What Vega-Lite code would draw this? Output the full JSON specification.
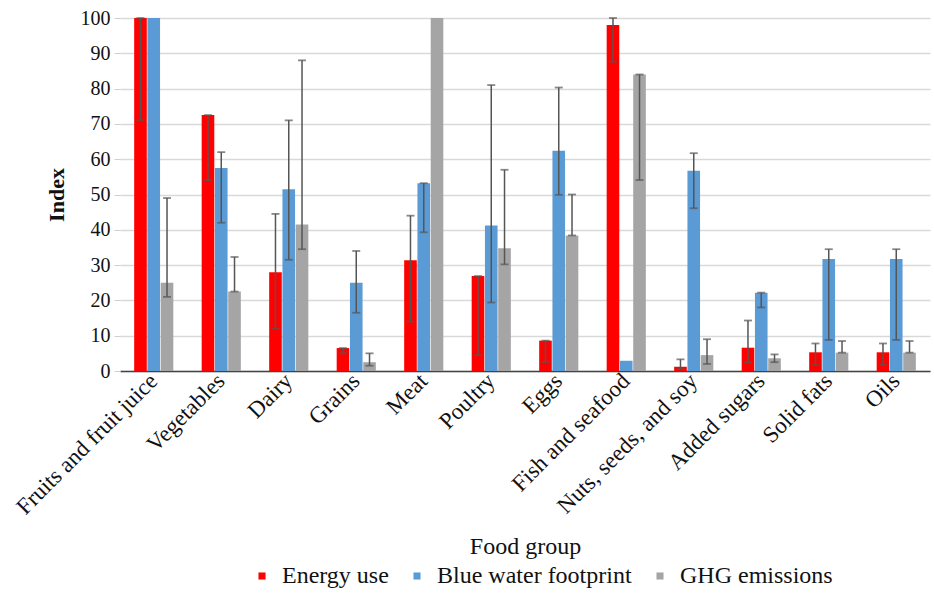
{
  "$schema": "https://vega.github.io/schema/vega-lite/v6.json",
  "autosize": {"type": "none"},
  "width": 810,
  "height": 353,
  "padding": {"left": 120, "top": 18, "right": 4, "bottom": 223},
  "background": "white",
  "config": {
    "font": "Times New Roman",
    "view": {"stroke": null},
    "axis": {"labelFont": "Times New Roman", "titleFont": "Times New Roman", "labelColor": "#111", "titleColor": "#111"},
    "legend": {"labelFont": "Times New Roman", "titleFont": "Times New Roman"}
  },
  "data": {
    "values": [
      {"group": "Fruits and fruit juice", "measure": "Energy use", "value": 100, "lo": 71, "hi": 100},
      {"group": "Fruits and fruit juice", "measure": "Blue water footprint", "value": 100, "lo": null, "hi": null},
      {"group": "Fruits and fruit juice", "measure": "GHG emissions", "value": 25, "lo": 21, "hi": 49},
      {"group": "Vegetables", "measure": "Energy use", "value": 72.5, "lo": 54, "hi": 72.5},
      {"group": "Vegetables", "measure": "Blue water footprint", "value": 57.5, "lo": 42, "hi": 62},
      {"group": "Vegetables", "measure": "GHG emissions", "value": 22.5, "lo": 22.5, "hi": 32.3},
      {"group": "Dairy", "measure": "Energy use", "value": 28, "lo": 12, "hi": 44.5},
      {"group": "Dairy", "measure": "Blue water footprint", "value": 51.5, "lo": 31.5, "hi": 71},
      {"group": "Dairy", "measure": "GHG emissions", "value": 41.5, "lo": 34.5, "hi": 88},
      {"group": "Grains", "measure": "Energy use", "value": 6.5, "lo": 5, "hi": 6.5},
      {"group": "Grains", "measure": "Blue water footprint", "value": 25, "lo": 16.5, "hi": 34},
      {"group": "Grains", "measure": "GHG emissions", "value": 2.5, "lo": 1.5, "hi": 5},
      {"group": "Meat", "measure": "Energy use", "value": 31.4, "lo": 14, "hi": 44},
      {"group": "Meat", "measure": "Blue water footprint", "value": 53.2, "lo": 39.3, "hi": 53.2},
      {"group": "Meat", "measure": "GHG emissions", "value": 100, "lo": null, "hi": null},
      {"group": "Poultry", "measure": "Energy use", "value": 26.9, "lo": 4.5, "hi": 26.9},
      {"group": "Poultry", "measure": "Blue water footprint", "value": 41.2, "lo": 19.4, "hi": 81},
      {"group": "Poultry", "measure": "GHG emissions", "value": 34.8, "lo": 30.2, "hi": 57},
      {"group": "Eggs", "measure": "Energy use", "value": 8.6, "lo": 2.5, "hi": 8.6},
      {"group": "Eggs", "measure": "Blue water footprint", "value": 62.4, "lo": 49.9, "hi": 80.3},
      {"group": "Eggs", "measure": "GHG emissions", "value": 38.4, "lo": 38.4, "hi": 50},
      {"group": "Fish and seafood", "measure": "Energy use", "value": 98, "lo": 87.6, "hi": 100},
      {"group": "Fish and seafood", "measure": "Blue water footprint", "value": 2.9, "lo": null, "hi": null},
      {"group": "Fish and seafood", "measure": "GHG emissions", "value": 84, "lo": 54.1, "hi": 84},
      {"group": "Nuts, seeds, and soy", "measure": "Energy use", "value": 1.2, "lo": 0.5, "hi": 3.3},
      {"group": "Nuts, seeds, and soy", "measure": "Blue water footprint", "value": 56.7, "lo": 46.1, "hi": 61.7},
      {"group": "Nuts, seeds, and soy", "measure": "GHG emissions", "value": 4.5, "lo": 2, "hi": 9},
      {"group": "Added sugars", "measure": "Energy use", "value": 6.6, "lo": 2.4, "hi": 14.3},
      {"group": "Added sugars", "measure": "Blue water footprint", "value": 22.2, "lo": 18, "hi": 22.2},
      {"group": "Added sugars", "measure": "GHG emissions", "value": 3.6, "lo": 2.5, "hi": 4.7},
      {"group": "Solid fats", "measure": "Energy use", "value": 5.3, "lo": 1.7, "hi": 7.8},
      {"group": "Solid fats", "measure": "Blue water footprint", "value": 31.7, "lo": 8.8, "hi": 34.5},
      {"group": "Solid fats", "measure": "GHG emissions", "value": 5.2, "lo": 5.2, "hi": 8.5},
      {"group": "Oils", "measure": "Energy use", "value": 5.3, "lo": 1.7, "hi": 7.8},
      {"group": "Oils", "measure": "Blue water footprint", "value": 31.7, "lo": 8.8, "hi": 34.5},
      {"group": "Oils", "measure": "GHG emissions", "value": 5.2, "lo": 5.2, "hi": 8.5}
    ]
  },
  "encoding": {
    "x": {
      "field": "group", "type": "nominal", "sort": null,
      "scale": {"paddingInner": 0.42, "paddingOuter": 0.21},
      "axis": {
        "title": "Food group", "titleFontSize": 24, "titleFontWeight": "normal",
        "titleY": 182, "titleBaseline": "alphabetic",
        "labelAngle": -45, "labelAlign": "right", "labelBaseline": "middle",
        "labelFontSize": 23, "labelPadding": 6, "labelLimit": 400, "ticks": false,
        "labelFont": "Times New Roman", "titleFont": "Times New Roman",
        "domainColor": "#444", "domainWidth": 1.5, "grid": false
      }
    },
    "xOffset": {
      "field": "measure", "type": "nominal",
      "sort": ["Energy use", "Blue water footprint", "GHG emissions"],
      "scale": {"paddingInner": 0.05}
    }
  },
  "layer": [
    {
      "mark": {"type": "bar"},
      "encoding": {
        "y": {
          "field": "value", "type": "quantitative",
          "scale": {"domain": [0, 100], "nice": false},
          "axis": {
            "title": "Index", "titleFontSize": 22, "titleFontWeight": "bold",
            "titlePadding": 12, "values": [0,10,20,30,40,50,60,70,80,90,100],
            "labelFont": "Times New Roman", "titleFont": "Times New Roman",
            "labelFontSize": 20, "labelPadding": 4, "ticks": true, "tickSize": 6, "tickColor": "#cfcfcf",
            "domain": false, "gridColor": "#d9d9d9", "gridWidth": 1.3
          }
        },
        "color": {
          "field": "measure", "type": "nominal",
          "sort": ["Energy use", "Blue water footprint", "GHG emissions"],
          "scale": {"domain": ["Energy use", "Blue water footprint", "GHG emissions"], "range": ["#ff0000", "#5b9bd5", "#a5a5a5"]},
          "legend": {
            "title": null, "orient": "none", "direction": "horizontal",
            "legendX": 130, "legendY": 546,
            "symbolType": "square", "symbolSize": 50, "symbolStrokeWidth": 0,
            "labelFontSize": 24, "labelFont": "Times New Roman", "labelColor": "#111",
            "labelLimit": 400, "columnPadding": 16, "labelOffset": 8
          }
        }
      }
    },
    {
      "transform": [{"filter": "datum.lo != null"}],
      "mark": {"type": "rule", "color": "#555", "strokeWidth": 1.5},
      "encoding": {
        "y": {
          "field": "lo", "type": "quantitative",
          "axis": {
            "title": "Index", "titleFontSize": 22, "titleFontWeight": "bold",
            "titlePadding": 12, "values": [0,10,20,30,40,50,60,70,80,90,100],
            "labelFont": "Times New Roman", "titleFont": "Times New Roman",
            "labelFontSize": 20, "labelPadding": 4, "ticks": true, "tickSize": 6, "tickColor": "#cfcfcf",
            "domain": false, "gridColor": "#d9d9d9", "gridWidth": 1.3
          }
        },
        "y2": {"field": "hi"}
      }
    },
    {
      "transform": [{"filter": "datum.lo != null"}],
      "mark": {"type": "tick", "color": "#555", "thickness": 1.8, "size": 8},
      "encoding": {
        "y": {
          "field": "lo", "type": "quantitative",
          "axis": {
            "title": "Index", "titleFontSize": 22, "titleFontWeight": "bold",
            "titlePadding": 12, "values": [0,10,20,30,40,50,60,70,80,90,100],
            "labelFont": "Times New Roman", "titleFont": "Times New Roman",
            "labelFontSize": 20, "labelPadding": 4, "ticks": true, "tickSize": 6, "tickColor": "#cfcfcf",
            "domain": false, "gridColor": "#d9d9d9", "gridWidth": 1.3
          }
        }
      }
    },
    {
      "transform": [{"filter": "datum.lo != null"}],
      "mark": {"type": "tick", "color": "#555", "thickness": 1.8, "size": 8},
      "encoding": {
        "y": {
          "field": "hi", "type": "quantitative",
          "axis": {
            "title": "Index", "titleFontSize": 22, "titleFontWeight": "bold",
            "titlePadding": 12, "values": [0,10,20,30,40,50,60,70,80,90,100],
            "labelFont": "Times New Roman", "titleFont": "Times New Roman",
            "labelFontSize": 20, "labelPadding": 4, "ticks": true, "tickSize": 6, "tickColor": "#cfcfcf",
            "domain": false, "gridColor": "#d9d9d9", "gridWidth": 1.3
          }
        }
      }
    }
  ]
}
